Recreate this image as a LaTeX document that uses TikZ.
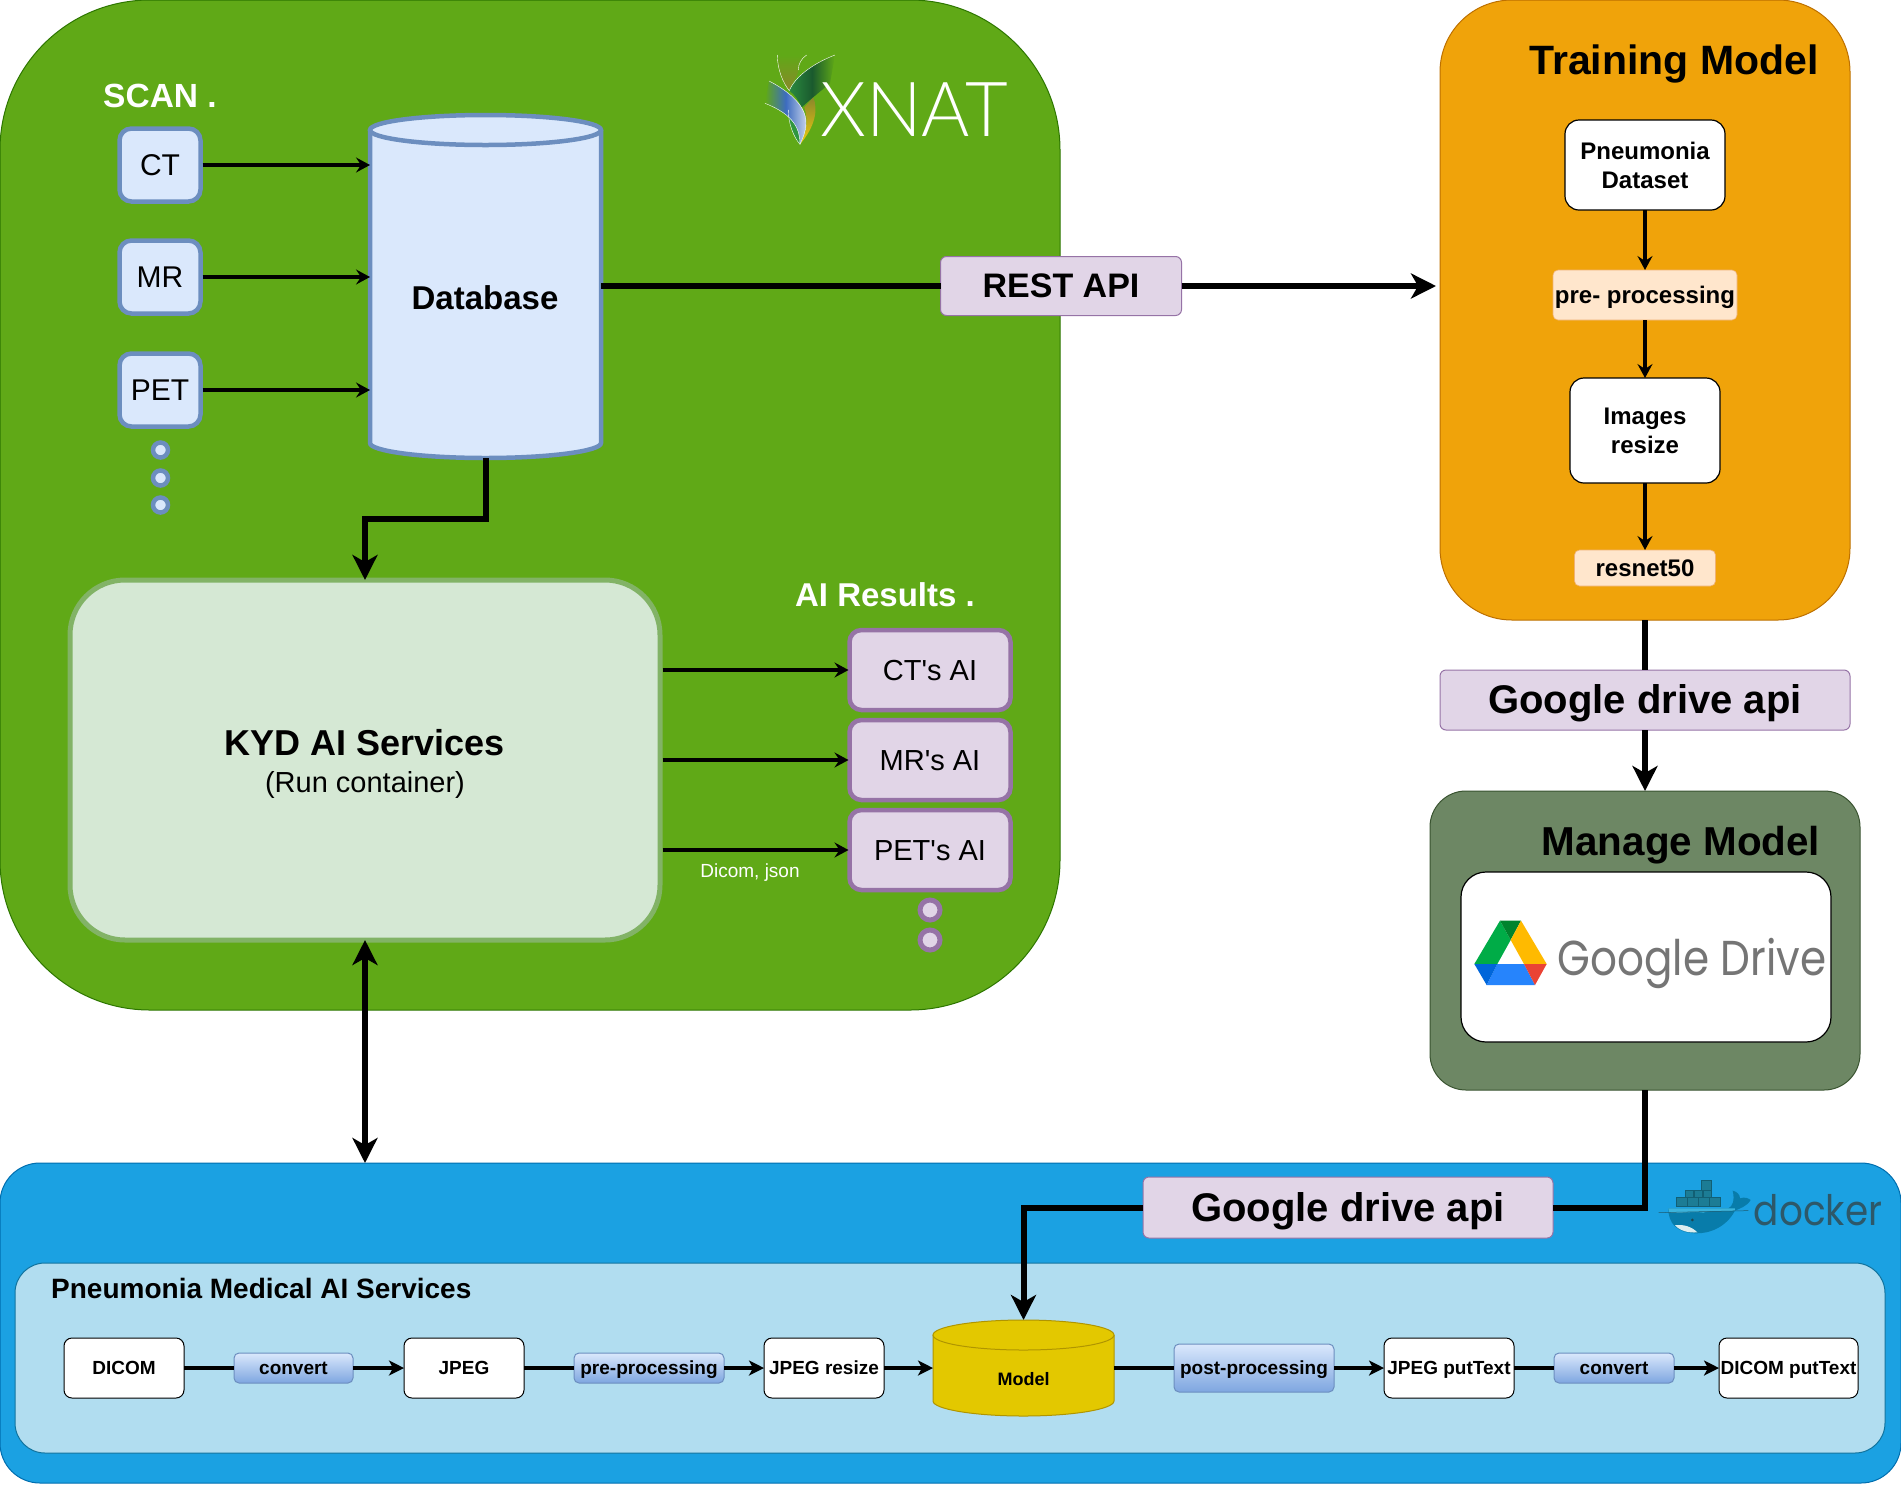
\documentclass[tikz,border=0pt]{standalone}
\usepackage{fontspec}
\usepackage{graphicx}
\setmainfont{Liberation Sans}
\newfontfamily\logofont{Poppins}
\newfontfamily\thinfont{Lato Light}
\usetikzlibrary{arrows.meta,calc}
\definecolor{xnatgreen}{HTML}{60A917}
\newcommand{\fsz}[1]{\fontsize{#1}{#1}\selectfont}

\begin{document}
\begin{tikzpicture}[%
x=1pt,y=-1pt,
box/.style={rectangle,draw,inner sep=0pt,outer sep=0pt,align=center},
oneline/.style={execute at begin node={\rule[-.212em]{0pt}{1.117em}}},
panel/.style={box,line width=1pt},
sbox/.style={box,oneline,line width=4.5pt,outer sep=2pt,rounded corners=12pt,draw=scanblue,fill=scanfill,font=\fsz{30}},
aibox/.style={box,oneline,line width=4.5pt,outer sep=1pt,rounded corners=12pt,draw=aipurple,fill=aifill,font=\fsz{29}},
apibox/.style={box,oneline,line width=1pt,rounded corners=6pt,draw=aipurple,fill=aifill,font=\bfseries\fsz{40}},
stepbox/.style={box,line width=1.2pt,rounded corners=14pt,fill=white,font=\bfseries\fontsize{24}{29}\selectfont},
tipbox/.style={box,oneline,line width=.6pt,rounded corners=5pt,draw=orange!60!brown!60,fill=tipfill,font=\bfseries\fsz{24}},
flowbox/.style={box,oneline,line width=1pt,rounded corners=8pt,fill=white,font=\bfseries\fsz{19}},
procbox/.style={box,oneline,line width=1pt,rounded corners=5pt,draw=scanblue,top color=scanfill,bottom color=procblue,font=\bfseries\fsz{19}},
ring/.style={circle,inner sep=0pt,outer sep=0pt,minimum size=15pt,line width=4.5pt},
airing/.style={circle,inner sep=0pt,outer sep=0pt,minimum size=20pt,line width=5pt,draw=aipurple,fill=aifill},
thin arr/.style={line width=3.5pt,-{Stealth[length=14pt,width=15pt,inset=5pt]}},
thick arr/.style={line width=6pt,-{Stealth[length=25pt,width=25pt,inset=7pt]}},
flow arr/.style={line width=3.5pt,-{Stealth[length=15pt,width=15pt,inset=4pt]}},
]
\definecolor{scanblue}{HTML}{6C8EBF}
\definecolor{scanfill}{HTML}{DAE8FC}
\definecolor{aipurple}{HTML}{9673A6}
\definecolor{aifill}{HTML}{E1D5E7}
\definecolor{tipfill}{HTML}{FFE6CC}
\definecolor{procblue}{HTML}{7EA6E0}
\useasboundingbox (0,0) rectangle (1901,1484);
%% panels;
\node[panel,rounded corners=150pt,draw={rgb,255:red,45;green,118;blue,0},fill=xnatgreen,minimum width=1060pt,minimum height=1010pt] (xnat) at (530,505) {};
\node[panel,rounded corners=72pt,draw={rgb,255:red,189;green,112;blue,0},fill={rgb,255:red,240;green,163;blue,10},minimum width=410pt,minimum height=620pt] (train) at (1645,310) {};
\node[panel,rounded corners=36pt,draw={rgb,255:red,58;green,84;blue,49},fill={rgb,255:red,109;green,135;blue,100},minimum width=430pt,minimum height=299pt] (manage) at (1645,940.5) {};
\node[panel,rounded corners=40pt,draw={rgb,255:red,0;green,110;blue,175},fill={rgb,255:red,27;green,161;blue,226},minimum width=1901pt,minimum height=320pt] (dockerpanel) at (950.5,1323) {};
\node[panel,rounded corners=30pt,draw={rgb,255:red,16;green,115;blue,158},fill={rgb,255:red,177;green,221;blue,240},minimum width=1870pt,minimum height=190pt] (medical) at (950,1358) {};
%% titles;
\node[oneline,text=white,font=\bfseries\fsz{33.5}] (scantitle) at (160,96) {SCAN .};
\node[oneline,text=white,font=\bfseries\fsz{33}] (airesults) at (885,595) {AI Results .};
\node[oneline,font=\bfseries\fsz{41}] (traintitle) at (1674,60) {Training Model};
\node[oneline,font=\bfseries\fsz{40.4}] (managetitle) at (1681,841) {Manage Model};
\node[oneline,anchor=west,inner sep=0pt,font=\bfseries\fsz{28}] (medicaltitle) at (51,1289) {Pneumonia Medical AI Services};
%% scans;
\node[sbox,minimum width=81pt,minimum height=73pt] (ct) at (160,165) {CT};
\node[sbox,minimum width=81pt,minimum height=73pt] (mr) at (160,277) {MR};
\node[sbox,minimum width=81pt,minimum height=73pt] (pet) at (160,390) {PET};
\node[ring,draw=scanblue,fill=scanfill] (scandota) at (160.5,450) {};
\node[ring,draw=scanblue,fill=scanfill] (scandotb) at (160.5,478) {};
\node[ring,draw=scanblue,fill=scanfill] (scandotc) at (160.5,505) {};
%% database;
\draw[line width=4.5pt,draw=scanblue,fill=scanfill] (370,130) -- (370,443) .. controls (370,451) and (421,458) .. (485.5,458) .. controls (550,458) and (601,451) .. (601,443) -- (601,130);
\draw[line width=4.5pt,draw=scanblue,fill=scanfill] (485.5,130) ellipse [x radius=115.5pt,y radius=15pt];
\node[inner sep=0pt,outer sep=0pt,minimum width=231pt,minimum height=343pt] (db) at (485.5,286.5) {};
\node[oneline,font=\bfseries\fsz{33}] (dblabel) at (485,298) {Database};
\draw[thin arr] (ct.east) -- (db.west |- ct);
\draw[thin arr] (mr.east) -- (db.west |- mr);
\draw[thin arr] (pet.east) -- (db.west |- pet);
%% ai services;
\node[box,line width=5pt,outer xsep=2.5pt,rounded corners=55pt,draw={rgb,255:red,130;green,179;blue,102},fill={rgb,255:red,213;green,232;blue,212},minimum width=590pt,minimum height=360pt] (kyd) at (365,760) {};
\node[oneline,font=\bfseries\fsz{36}] (kydlabel) at (365,743) {KYD AI Services};
\node[oneline,font=\fsz{29}] (kydsub) at (365,782) {(Run container)};
\node[aibox,minimum width=161pt,minimum height=80pt] (ctai) at (930,670) {CT\textquotesingle s AI};
\node[aibox,minimum width=161pt,minimum height=80pt] (mrai) at (930,760) {MR\textquotesingle s AI};
\node[aibox,minimum width=161pt,minimum height=80pt] (petai) at (930,850) {PET\textquotesingle s AI};
\node[airing] (aidota) at (930,910) {};
\node[airing] (aidotb) at (930,940) {};
\draw[thin arr] (kyd.east |- ctai) -- (ctai.west);
\draw[thin arr] (kyd.east |- mrai) -- (mrai.west);
\draw[thin arr] (kyd.east |- petai) -- (petai.west);
\node[oneline,text=white,font=\fsz{19}] (dicomjson) at (750,871) {Dicom, json};
\draw[thick arr] (db.south) -- (485.5,519) -| (kyd.north);
%% rest api;
\node[apibox,font=\bfseries\fsz{34},minimum width=241pt,minimum height=59pt] (rest) at (1061,286) {REST API};
\coordinate (restend) at (1436,286);
\draw[line width=6pt] (db.east |- rest) -- (rest.west);
\draw[thick arr] (rest.east) -- (restend);
%% training;
\node[stepbox,minimum width=160pt,minimum height=90pt] (dataset) at (1645,165) {Pneumonia\\Dataset};
\node[tipbox,minimum width=184pt,minimum height=50pt] (prep) at (1645,295) {pre- processing};
\node[stepbox,minimum width=150pt,minimum height=105pt] (resize) at (1645,430.5) {Images\\resize};
\node[tipbox,minimum width=141pt,minimum height=36pt] (resnet) at (1645,568) {resnet50};
\draw[thin arr] (dataset.south) -- (prep.north);
\draw[thin arr] (prep.south) -- (resize.north);
\draw[thin arr] (resize.south) -- (resnet.north);
\node[apibox,minimum width=410pt,minimum height=60pt] (gapia) at (1645,700) {Google drive api};
\draw[line width=6pt] (train.south) -- (gapia.north);
\draw[thick arr] (gapia.south) -- (manage.north);
%% google drive;
\node[box,line width=1.2pt,rounded corners=25pt,fill=white,minimum width=370pt,minimum height=170pt] (drivebox) at (1646,957) {};
\begin{scope}[shift={(1420,860)},x=0.3333pt,y=-0.3333pt,line join=round]
\fill[fill={rgb,255:red,0;green,172;blue,71}] (240,182) -- (272,240) -- (232,312) -- (163,312) -- cycle;
\fill[fill={rgb,255:red,0;green,131;blue,45}] (240,182) -- (303,182) -- (272,240) -- cycle;
\fill[fill={rgb,255:red,255;green,186;blue,0}] (303,182) -- (380,312) -- (312,312) -- (272,240) -- cycle;
\fill[fill={rgb,255:red,38;green,132;blue,252}] (232,312) -- (312,312) -- (345,375) -- (200,375) -- cycle;
\fill[fill={rgb,255:red,0;green,102;blue,218}] (163,312) -- (232,312) -- (200,375) -- cycle;
\fill[fill={rgb,255:red,234;green,67;blue,53}] (312,312) -- (380,312) -- (345,375) -- cycle;
\end{scope}
\node[text={rgb,255:red,117;green,117;blue,117},font=\logofont\fsz{49}] (drivelabel) at (1692,963) {\scalebox{.86}[1]{Google Drive}};
%% docker;
\node[apibox,minimum width=410pt,minimum height=61pt] (gapib) at (1348,1207.5) {Google drive api};
\draw[line width=6pt] (manage.south) |- (gapib.east);
\node[inner sep=0pt,outer sep=0pt,minimum width=181pt,minimum height=96pt] (model) at (1023.5,1368) {};
\draw[thick arr] (gapib.west) -| (model.north);
\begin{scope}[shift={(1420,860)},x=0.3333pt,y=-0.3333pt]
\filldraw[fill={rgb,255:red,28;green,124;blue,149},draw={rgb,255:red,18;green,95;blue,116},line width=.8pt] (843,962) rectangle (875,990);
\foreach \cx in {795,822,849} {\filldraw[fill={rgb,255:red,28;green,124;blue,149},draw={rgb,255:red,18;green,95;blue,116},line width=.8pt] (\cx,990) rectangle ++(26,22);}
\foreach \cx in {768,801,834,867} {\filldraw[fill={rgb,255:red,28;green,124;blue,149},draw={rgb,255:red,18;green,95;blue,116},line width=.8pt] (\cx,1012) rectangle ++(33,28);}
\fill[fill={rgb,255:red,8;green,124;blue,170}] (745,1045) -- (925,1045) .. controls (938,1040) and (945,1020) .. (938,992) .. controls (952,995) and (960,1005) .. (960,1015) .. controls (975,1010) and (985,1015) .. (992,1020) .. controls (980,1040) and (960,1045) .. (945,1052) .. controls (920,1100) and (870,1122) .. (825,1120) .. controls (770,1118) and (745,1090) .. (745,1045) -- cycle;
\fill[fill={rgb,255:red,60;green,180;blue,220}] (745,1045) -- (945,1045) -- (945,1052) .. controls (900,1056) and (870,1050) .. (850,1058) .. controls (820,1052) and (790,1062) .. (748,1058) -- cycle;
\fill[fill={rgb,255:red,220;green,238;blue,240}] (765,1096) .. controls (790,1092) and (815,1100) .. (832,1117) .. controls (805,1120) and (780,1112) .. (765,1096) -- cycle;
\draw[draw={rgb,255:red,30;green,90;blue,110},line width=.5pt] (716,1058) -- (985,1052);
\fill[fill={rgb,255:red,30;green,70;blue,80}] (817,1080) circle (1.5pt);
\end{scope}
\node[text={rgb,255:red,45;green,88;blue,105},font=\logofont\fsz{42}] (dockerlabel) at (1818,1210) {\scalebox{.89}[1]{docker}};
%% model flow;
\node[flowbox,minimum width=120pt,minimum height=60pt] (dicom) at (124,1368) {DICOM};
\node[procbox,minimum width=119pt,minimum height=30pt] (conva) at (293.5,1368) {convert};
\node[flowbox,minimum width=120pt,minimum height=60pt] (jpeg) at (464,1368) {JPEG};
\node[procbox,minimum width=150pt,minimum height=30pt] (prepro) at (649,1368) {pre-processing};
\node[flowbox,minimum width=120pt,minimum height=60pt] (jpegresize) at (824,1368) {JPEG resize};
\draw[line width=1pt,draw={rgb,255:red,176;green,149;blue,0},fill={rgb,255:red,227;green,200;blue,0}] (933,1335) -- (933,1401) .. controls (933,1409) and (973,1416) .. (1023.5,1416) .. controls (1074,1416) and (1114,1409) .. (1114,1401) -- (1114,1335);
\draw[line width=1pt,draw={rgb,255:red,176;green,149;blue,0},fill={rgb,255:red,227;green,200;blue,0}] (1023.5,1335) ellipse [x radius=90.5pt,y radius=15pt];
\node[oneline,font=\bfseries\fsz{18}] (modellabel) at (1023.5,1379) {Model};
\node[procbox,minimum width=160pt,minimum height=48pt] (postpro) at (1254,1368) {post-processing};
\node[flowbox,minimum width=130pt,minimum height=60pt] (jpegtext) at (1449,1368) {JPEG putText};
\node[procbox,minimum width=120pt,minimum height=30pt] (convb) at (1614,1368) {convert};
\node[flowbox,minimum width=139pt,minimum height=60pt] (dicomtext) at (1788.5,1368) {DICOM putText};
\draw[line width=3.5pt] (dicom.east) -- (conva.west);
\draw[flow arr] (conva.east) -- (jpeg.west);
\draw[line width=3.5pt] (jpeg.east) -- (prepro.west);
\draw[flow arr] (prepro.east) -- (jpegresize.west);
\draw[flow arr] (jpegresize.east) -- (model.west);
\draw[line width=3.5pt] (model.east) -- (postpro.west);
\draw[flow arr] (postpro.east) -- (jpegtext.west);
\draw[line width=3.5pt] (jpegtext.east) -- (convb.west);
\draw[flow arr] (convb.east) -- (dicomtext.west);
\draw[line width=6pt,{Stealth[length=25pt,width=25pt,inset=7pt]}-{Stealth[length=25pt,width=25pt,inset=7pt]}] (kyd.south) -- (kyd.south |- dockerpanel.north);
%% xnat logo;
\begin{scope}[shift={(700,20)},x=0.3333pt,y=-0.3333pt]
\shade[top color=xnatgreen,bottom color={rgb,255:red,138;green,135;blue,42}] (232,105) .. controls (232,150) and (250,190) .. (268,212) .. controls (275,190) and (295,165) .. (295,150) .. controls (295,130) and (305,115) .. (320,105) -- cycle;
\shade[left color={rgb,255:red,42;green,138;blue,63},right color=xnatgreen,middle color={rgb,255:red,26;green,90;blue,46}] (268,212) .. controls (285,170) and (340,130) .. (405,105) -- (390,190) .. controls (360,215) and (335,235) .. (305,262) .. controls (295,240) and (285,225) .. (268,212) -- cycle;
\shade[top color={rgb,255:red,138;green,135;blue,42},bottom color={rgb,255:red,240;green,204;blue,16}] (340,232) .. controls (355,270) and (345,320) .. (300,373) .. controls (320,340) and (325,300) .. (313,262) -- cycle;
\fill[fill={rgb,255:red,47;green,150;blue,64}] (265,270) .. controls (265,310) and (280,350) .. (300,373) .. controls (300,345) and (290,310) .. (265,270) -- cycle;
\shade[left color=xnatgreen,right color={rgb,255:red,197;green,210;blue,234},middle color={rgb,255:red,61;green,108;blue,192}] (207,183) .. controls (250,205) and (320,250) .. (318,310) .. controls (318,335) and (308,355) .. (300,373) .. controls (300,330) and (285,285) .. (195,250) -- cycle;
\draw[white,line width=.4pt] (232,105) .. controls (232,150) and (250,190) .. (268,212);
\draw[white,line width=.4pt] (320,105) .. controls (305,115) and (295,130) .. (295,150);
\draw[white,line width=.4pt] (268,212) .. controls (285,170) and (340,130) .. (405,105);
\draw[white,line width=.4pt] (207,183) .. controls (250,205) and (320,250) .. (318,310) .. controls (318,335) and (308,355) .. (300,373);
\draw[white,line width=.4pt] (195,250) .. controls (285,285) and (300,330) .. (300,373);
\draw[white,line width=.4pt] (265,270) .. controls (265,310) and (280,350) .. (300,373);
\end{scope}
\node[text=white,font=\thinfont\fsz{76}] (xnatlabel) at (914,110) {\scalebox{.97}[1]{XNAT}};
\end{tikzpicture}
\end{document}
